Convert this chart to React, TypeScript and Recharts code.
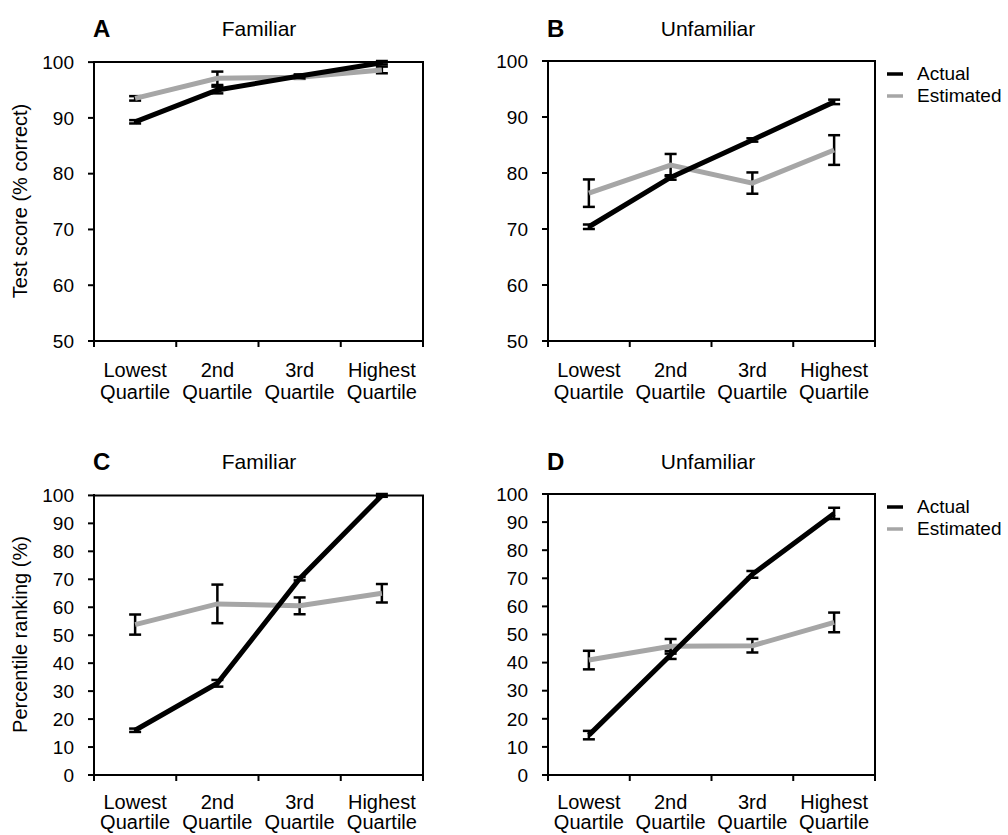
import { LineChart, Line, XAxis, YAxis, ErrorBar, ReferenceArea, Legend } from 'recharts';

const FONT = '"Liberation Sans", Arial, sans-serif';

const quartileTop = ['Lowest', '2nd', '3rd', 'Highest'];
const quartileBottom = ['Quartile', 'Quartile', 'Quartile', 'Quartile'];
const xPositions = [0.5, 1.5, 2.5, 3.5];
const xTicks = [0, 0.5, 1, 1.5, 2, 2.5, 3, 3.5, 4];

const scoreTicks = [50, 60, 70, 80, 90, 100];
const rankTicks = [0, 10, 20, 30, 40, 50, 60, 70, 80, 90, 100];

// test score, familiar
const scoreFamActual = [89.3, 95.0, 97.5, 99.9];
const scoreFamActualErr = [0.3, 0.6, 0.3, 0.3];
const scoreFamEst = [93.5, 97.1, 97.3, 98.6];
const scoreFamEstErr = [0.4, 1.2, 0.3, 0.6];

// test score, unfamiliar
const scoreUnfActual = [70.4, 79.2, 85.9, 92.7];
const scoreUnfActualErr = [0.4, 0.4, 0.3, 0.4];
const scoreUnfEst = [76.4, 81.4, 78.2, 84.1];
const scoreUnfEstErr = [2.45, 2.0, 1.9, 2.65];

// percentile ranking, familiar
const rankFamActual = [16.0, 32.8, 70.2, 100];
const rankFamActualErr = [0.6, 1.2, 0.6, 0.5];
const rankFamEst = [53.8, 61.2, 60.5, 65.0];
const rankFamEstErr = [3.6, 6.9, 3.0, 3.3];

// percentile ranking, unfamiliar
const rankUnfActual = [14.2, 42.7, 71.4, 93.1];
const rankUnfActualErr = [1.5, 1.4, 1.2, 2.0];
const rankUnfEst = [40.9, 45.8, 46.0, 54.3];
const rankUnfEstErr = [3.3, 2.6, 2.4, 3.5];

const legendOrder = ['Actual', 'Estimated'];

const buildRows = (act: number[], actErr: number[], est: number[], estErr: number[]) =>
  xPositions.map((x, i) => ({
    x,
    actual: act[i],
    actualErr: actErr[i],
    est: est[i],
    estErr: estErr[i],
  }));

const XTick = (props: any) => {
  const { x, y, payload, line1, line2 } = props;
  const v = payload.value;
  if (Number.isInteger(v)) {
    return <line x1={x} x2={x} y1={y} y2={y + 6} stroke="#000" strokeWidth={2} />;
  }
  const i = Math.floor(v);
  return (
    <g fontFamily={FONT} fontSize={20} fill="#000">
      <text x={x} y={y + line1} textAnchor="middle">{quartileTop[i]}</text>
      <text x={x} y={y + line2} textAnchor="middle">{quartileBottom[i]}</text>
    </g>
  );
};

const YTitle = (props: any) => {
  const { viewBox, text } = props;
  const cy = viewBox.y + viewBox.height / 2;
  return (
    <text
      x={20}
      y={cy}
      transform={`rotate(-90, 20, ${cy})`}
      textAnchor="middle"
      dominantBaseline="central"
      fontFamily={FONT}
      fontSize={20}
      fill="#000"
    >
      {text}
    </text>
  );
};

const renderLegend = (props: any) => {
  const items = [...(props.payload || [])].sort(
    (a: any, b: any) => legendOrder.indexOf(a.value) - legendOrder.indexOf(b.value)
  );
  return (
    <div style={{ fontFamily: FONT, fontSize: 19 }}>
      {items.map((p: any) => (
        <div key={p.value} style={{ display: 'flex', alignItems: 'center', height: 22 }}>
          <svg width={16} height={4}>
            <line x1={0} x2={16} y1={2} y2={2} stroke={p.color} strokeWidth={3.5} />
          </svg>
          <span style={{ marginLeft: 14 }}>{p.value}</span>
        </div>
      ))}
    </div>
  );
};

type PanelProps = {
  left: number;
  top: number;
  width: number;
  height: number;
  yWidth: number;
  marginRight: number;
  xHeight: number;
  marginBottom: number;
  rows: any[];
  domain: [number, number];
  yTicks: number[];
  yTitle?: string;
  legend?: boolean;
  line1: number;
  line2: number;
};

const Panel = (p: PanelProps) => (
  <div style={{ position: 'absolute', left: p.left, top: p.top }}>
    <LineChart
      width={p.width}
      height={p.height}
      data={p.rows}
      margin={{ top: 61, right: p.marginRight, left: 0, bottom: p.marginBottom }}
    >
      <XAxis
        dataKey="x"
        type="number"
        domain={[0, 4]}
        ticks={xTicks}
        interval={0}
        tickLine={false}
        tickSize={0}
        tickMargin={0}
        height={p.xHeight}
        tick={<XTick line1={p.line1} line2={p.line2} />}
        axisLine={{ stroke: '#000', strokeWidth: 2 }}
      />
      <YAxis
        type="number"
        domain={p.domain}
        ticks={p.yTicks}
        interval={0}
        width={p.yWidth}
        tickSize={6}
        tickMargin={14}
        tickLine={{ stroke: '#000', strokeWidth: 2 }}
        axisLine={{ stroke: '#000', strokeWidth: 2 }}
        tick={{ fill: '#000', fontSize: 19, fontFamily: FONT }}
        label={p.yTitle ? <YTitle text={p.yTitle} /> : undefined}
      />
      <ReferenceArea
        x1={0}
        x2={4}
        y1={p.domain[0]}
        y2={p.domain[1]}
        fill="none"
        fillOpacity={0}
        stroke="#000"
        strokeWidth={2}
      />
      <Line
        name="Estimated"
        dataKey="est"
        type="linear"
        stroke="#a6a6a6"
        strokeWidth={5}
        dot={false}
        activeDot={false}
        isAnimationActive={false}
      >
        <ErrorBar dataKey="estErr" width={6} stroke="#000" strokeWidth={2.5} direction="y" isAnimationActive={false} />
      </Line>
      <Line
        name="Actual"
        dataKey="actual"
        type="linear"
        stroke="#000"
        strokeWidth={5}
        dot={false}
        activeDot={false}
        isAnimationActive={false}
      >
        <ErrorBar dataKey="actualErr" width={6} stroke="#000" strokeWidth={2.5} direction="y" isAnimationActive={false} />
      </Line>
      {p.legend && (
        <Legend
          layout="vertical"
          align="center"
          verticalAlign="middle"
          content={renderLegend}
          wrapperStyle={{ left: 427, top: 63, width: 'auto', height: 'auto' }}
        />
      )}
    </LineChart>
  </div>
);

const Title = ({ letter, text, x, cx, y }: { letter: string; text: string; x: number; cx: number; y: number }) => (
  <>
    <div
      style={{
        position: 'absolute',
        left: x,
        top: y - 15,
        fontFamily: FONT,
        fontWeight: 'bold',
        fontSize: 24,
        lineHeight: '30px',
      }}
    >
      {letter}
    </div>
    <div
      style={{
        position: 'absolute',
        left: cx - 100,
        width: 200,
        textAlign: 'center',
        top: y - 13,
        fontFamily: FONT,
        fontSize: 21,
        lineHeight: '26px',
      }}
    >
      {text}
    </div>
  </>
);

export default function App() {
  return (
    <div style={{ position: 'absolute', left: 0, top: 0, width: 1008, height: 835, background: '#fff', overflow: 'hidden' }}>
      <Title letter="A" text="Familiar" x={93} cx={259} y={29} />
      <Title letter="B" text="Unfamiliar" x={547} cx={708} y={29} />
      <Title letter="C" text="Familiar" x={93} cx={259} y={462} />
      <Title letter="D" text="Unfamiliar" x={547} cx={708} y={462} />
      <Panel
        left={0}
        top={0}
        width={460}
        height={430}
        yWidth={94}
        marginRight={37}
        xHeight={60}
        marginBottom={29}
        rows={buildRows(scoreFamActual, scoreFamActualErr, scoreFamEst, scoreFamEstErr)}
        domain={[50, 100]}
        yTicks={scoreTicks}
        yTitle="Test score (% correct)"
        line1={36}
        line2={58}
      />
      <Panel
        left={460}
        top={0}
        width={548}
        height={430}
        yWidth={88}
        marginRight={133}
        xHeight={60}
        marginBottom={29}
        rows={buildRows(scoreUnfActual, scoreUnfActualErr, scoreUnfEst, scoreUnfEstErr)}
        domain={[50, 100]}
        yTicks={scoreTicks}
        legend
        line1={36}
        line2={58}
      />
      <Panel
        left={0}
        top={433}
        width={460}
        height={402}
        yWidth={94}
        marginRight={37}
        xHeight={60}
        marginBottom={0}
        rows={buildRows(rankFamActual, rankFamActualErr, rankFamEst, rankFamEstErr)}
        domain={[0, 100]}
        yTicks={rankTicks}
        yTitle="Percentile ranking (%)"
        line1={34}
        line2={54}
      />
      <Panel
        left={460}
        top={433}
        width={548}
        height={402}
        yWidth={88}
        marginRight={133}
        xHeight={60}
        marginBottom={0}
        rows={buildRows(rankUnfActual, rankUnfActualErr, rankUnfEst, rankUnfEstErr)}
        domain={[0, 100]}
        yTicks={rankTicks}
        legend
        line1={34}
        line2={54}
      />
    </div>
  );
}
